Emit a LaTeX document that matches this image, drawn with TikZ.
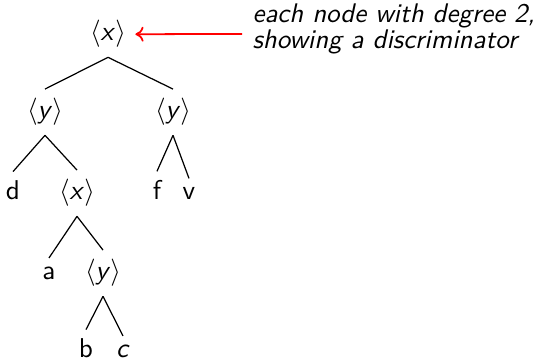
\documentclass[tikz,border=0pt]{standalone}
\usetikzlibrary{arrows.meta}
\begin{document}
\begin{tikzpicture}[x=0.3676pt,y=-0.3676pt,
  tn/.style={anchor=base,inner sep=3.3pt,font=\sffamily},
  edge/.style={line width=0.45pt},
  note/.style={anchor=base west,inner sep=0pt,align=left,font=\sffamily\itshape\fontsize{9.9}{8.45}\selectfont},
  pointer/.style={red,line width=0.65pt,-{To[length=3pt,width=5.5pt]}}]
\useasboundingbox (0,0) rectangle (540,362);
\newcommand{\mx}{$\langle$\textit{x}$\rangle$}
\newcommand{\my}{$\langle$\textit{y}$\rangle$}
\node[tn] (r) at (108,41) {\mx};
\node[tn] (ly) at (45,119) {\my};
\node[tn] (ry) at (173,119) {\my};
\node[tn] (d) at (13,200) {d};
\node[tn] (mx) at (77,200) {\mx};
\node[tn] (f) at (157,200) {f};
\node[tn] (v) at (189,200) {v};
\node[tn] (a) at (49,280) {a};
\node[tn] (by) at (103,280) {\my};
\node[tn] (b) at (86,358) {b};
\node[tn] (c) at (123,358) {\textit{c}};
\foreach \p/\q in {r/ly,r/ry,ly/d,ly/mx,ry/f,ry/v,mx/a,mx/by,by/b,by/c}
  \draw[edge] (\p.south) -- (\q.north);
\node[note] (lbl) at (252,49) {each node with degree 2,\\showing a discriminator};
\coordinate (ps) at (242,34);
\draw[pointer] (ps) -- (r.east);
\end{tikzpicture}
\end{document}
